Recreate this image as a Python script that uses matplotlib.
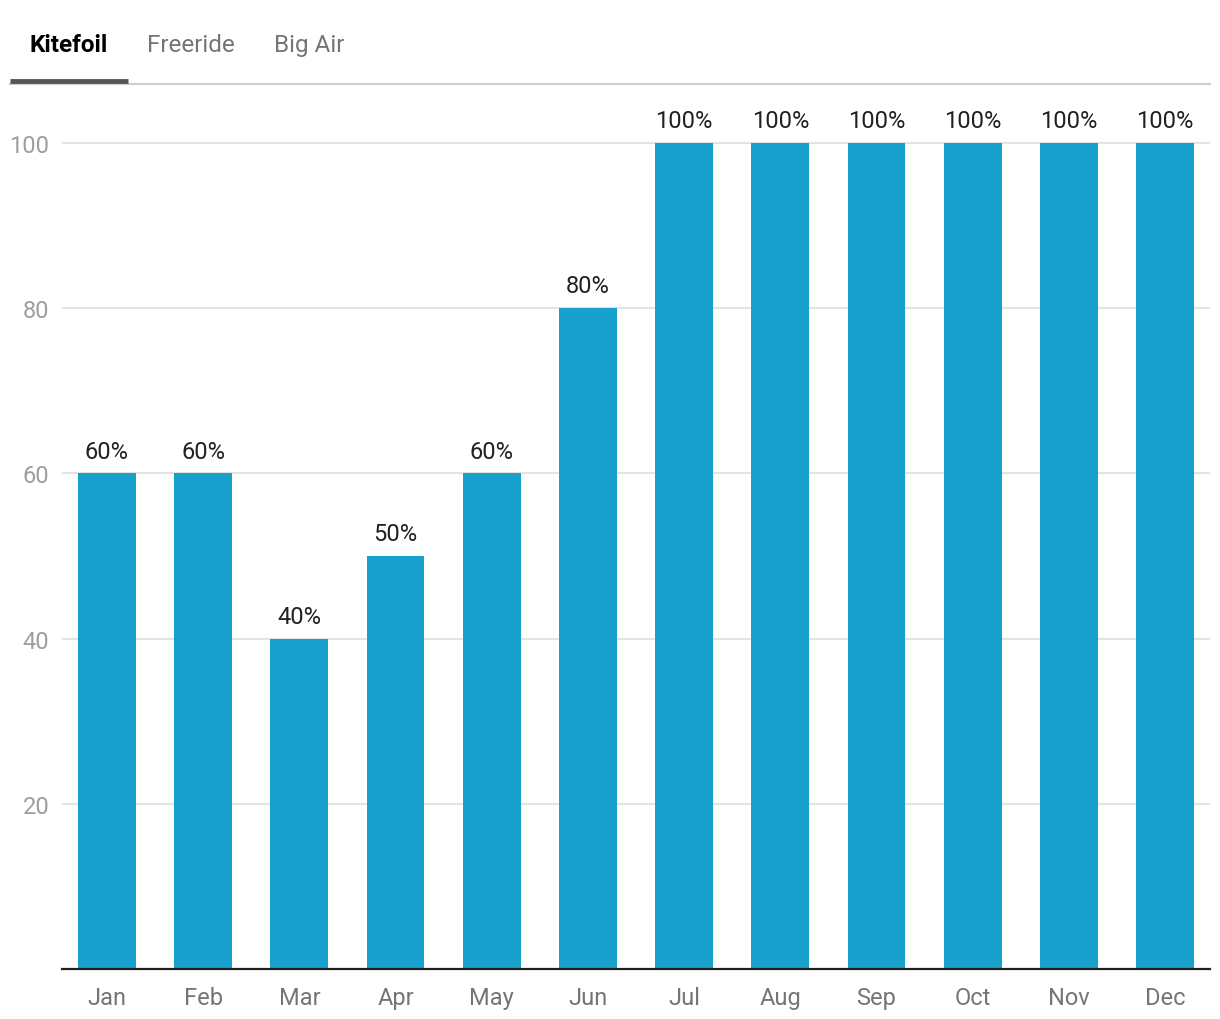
import matplotlib.pyplot as plt
from matplotlib.lines import Line2D

months = ["Jan", "Feb", "Mar", "Apr", "May", "Jun", "Jul", "Aug", "Sep", "Oct", "Nov", "Dec"]
values = [60, 60, 40, 50, 60, 80, 100, 100, 100, 100, 100, 100]
tabs = ["Kitefoil", "Freeride", "Big Air"]
yticks = [20, 40, 60, 80, 100]

plt.rcParams["font.family"] = ["Roboto", "DejaVu Sans"]

W, H = 1220, 1020
fig = plt.figure(figsize=(W / 100, H / 100), dpi=100)

# plot area in pixels: left 62, right 1210, bottom 970, top 100
ax = fig.add_axes([62 / W, 1 - 970 / H, (1210 - 62) / W, (970 - 100) / H])
x = list(range(len(months)))
ax.bar(x, values, width=0.6, color="#19A1CD", zorder=2)
ax.set_xlim(-0.467, 11.467)
ax.set_ylim(0, 870 / 8.26)

for xi, v in zip(x, values):
    ax.annotate(f"{v}%", (xi, v), xytext=(0, 16), textcoords="offset points",
                ha="center", va="center", fontsize=17, color="#212121")

ax.set_yticks(yticks)
ax.set_yticklabels([str(t) for t in yticks])
ax.set_xticks(x)
ax.set_xticklabels(months)
ax.tick_params(axis="y", length=0, pad=9, labelsize=17, labelcolor="#9E9E9E")
ax.tick_params(axis="x", length=0, pad=12.5, labelsize=17, labelcolor="#757575")
ax.grid(axis="y", color="#E3E3E3", linewidth=1.5, zorder=0)
for s in ["top", "right", "left"]:
    ax.spines[s].set_visible(False)
ax.spines["bottom"].set_color("#212121")
ax.spines["bottom"].set_linewidth(1.6)
ax.spines["bottom"].set_zorder(3)

# tab header
fig.text(69 / W, 1 - 45.5 / H, tabs[0], ha="center", va="center", fontsize=17.5,
         fontweight="bold", color="#000000")
fig.text(191 / W, 1 - 45.5 / H, tabs[1], ha="center", va="center", fontsize=17.5, color="#757575")
fig.text(309 / W, 1 - 45.5 / H, tabs[2], ha="center", va="center", fontsize=17.5, color="#757575")
fig.add_artist(Line2D([10 / W, 1210 / W], [1 - 85 / H, 1 - 85 / H], color="#CFCFCF",
                      linewidth=1.5, transform=fig.transFigure))
fig.add_artist(Line2D([10 / W, 128 / W], [1 - 81.5 / H, 1 - 81.5 / H], color="#555555",
                      linewidth=3.5, solid_capstyle="butt", transform=fig.transFigure))

fig.savefig("out.png", dpi=100)
